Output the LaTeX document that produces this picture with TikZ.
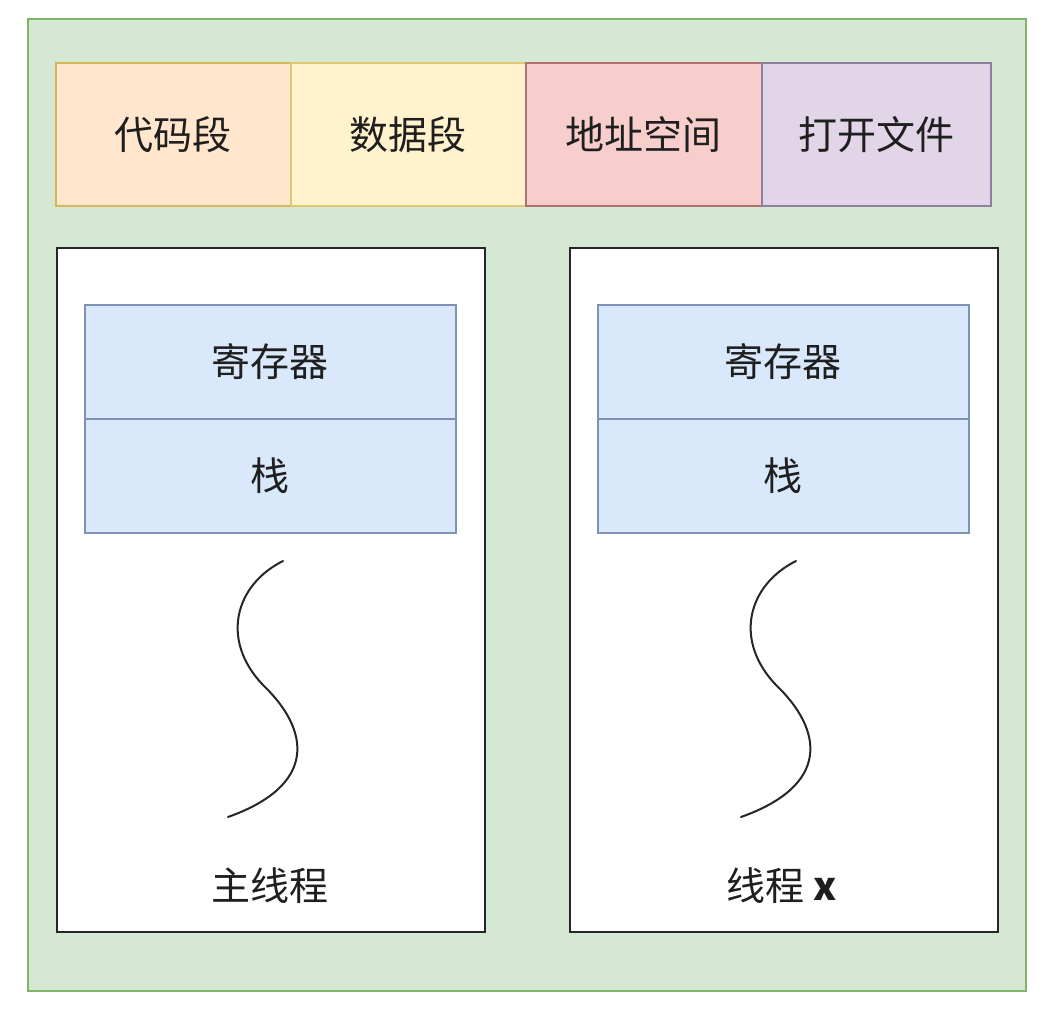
\documentclass[tikz,border=0pt]{standalone}
\usepackage{fontspec}
\setmainfont{Noto Sans CJK SC}
\begin{document}
\begin{tikzpicture}[x=1pt,y=-1pt,
  lbl/.style={font=\fontsize{39}{44}\selectfont, text=black!88},
  seg/.style={draw, line width=1.5pt, minimum height=143pt, inner sep=0pt, anchor=north west, lbl},
  thr/.style={draw=black!85, fill=white, line width=2pt, minimum width=428pt, minimum height=684pt, inner sep=0pt, anchor=north west},
  bluebox/.style={draw=blueLine, line width=1.5pt, fill=blueFill, minimum width=371pt, minimum height=114pt, inner sep=0pt, anchor=north west, lbl}
]
\definecolor{greenFill}{HTML}{D5E8D4}\definecolor{greenLine}{HTML}{82B366}
\definecolor{orangeFill}{HTML}{FFE6CC}\definecolor{orangeLine}{HTML}{D6B656}
\definecolor{yellowFill}{HTML}{FFF2CC}\definecolor{yellowLine}{HTML}{E0C870}
\definecolor{redFill}{HTML}{F8CECC}\definecolor{redLine}{HTML}{B07070}
\definecolor{purpleFill}{HTML}{E1D5E7}\definecolor{purpleLine}{HTML}{9080A0}
\definecolor{blueFill}{HTML}{DAE8FC}\definecolor{blueLine}{HTML}{7D93B5}
\useasboundingbox[fill=white] (0,0) rectangle (1061,1012);
\node[draw=greenLine, fill=greenFill, line width=2pt, minimum width=998pt, minimum height=972pt, inner sep=0pt, anchor=north west] (outer) at (27,18) {};
\node[seg, fill=orangeFill, draw=orangeLine, minimum width=235pt] (code) at (55,62) {代码段};
\node[seg, fill=yellowFill, draw=yellowLine, minimum width=235pt] (data) at (290,62) {数据段};
\node[seg, fill=redFill, draw=redLine, minimum width=236pt] (addr) at (525,62) {地址空间};
\node[seg, fill=purpleFill, draw=purpleLine, minimum width=229pt] (files) at (761,62) {打开文件};
\node[thr] (main) at (56,247) {};
\node[thr] (tx) at (569,247) {};
\node[bluebox] (reg1) at (84,304) {寄存器};
\node[bluebox] (stk1) at (84,418) {栈};
\node[bluebox] (reg2) at (597,304) {寄存器};
\node[bluebox] (stk2) at (597,418) {栈};
\node[lbl] (mainlbl) at (270,886) {主线程};
\node[lbl] (txlbl) at (782,886) {线程 \textbf{x}};
\foreach \dx in {0,513}{
  \draw[line width=2pt, black!85, line cap=round] (283+\dx,561) .. controls (235+\dx,585) and (220+\dx,640) .. (263+\dx,685) .. controls (310+\dx,730) and (318+\dx,785) .. (228+\dx,817);
}
\end{tikzpicture}
\end{document}
